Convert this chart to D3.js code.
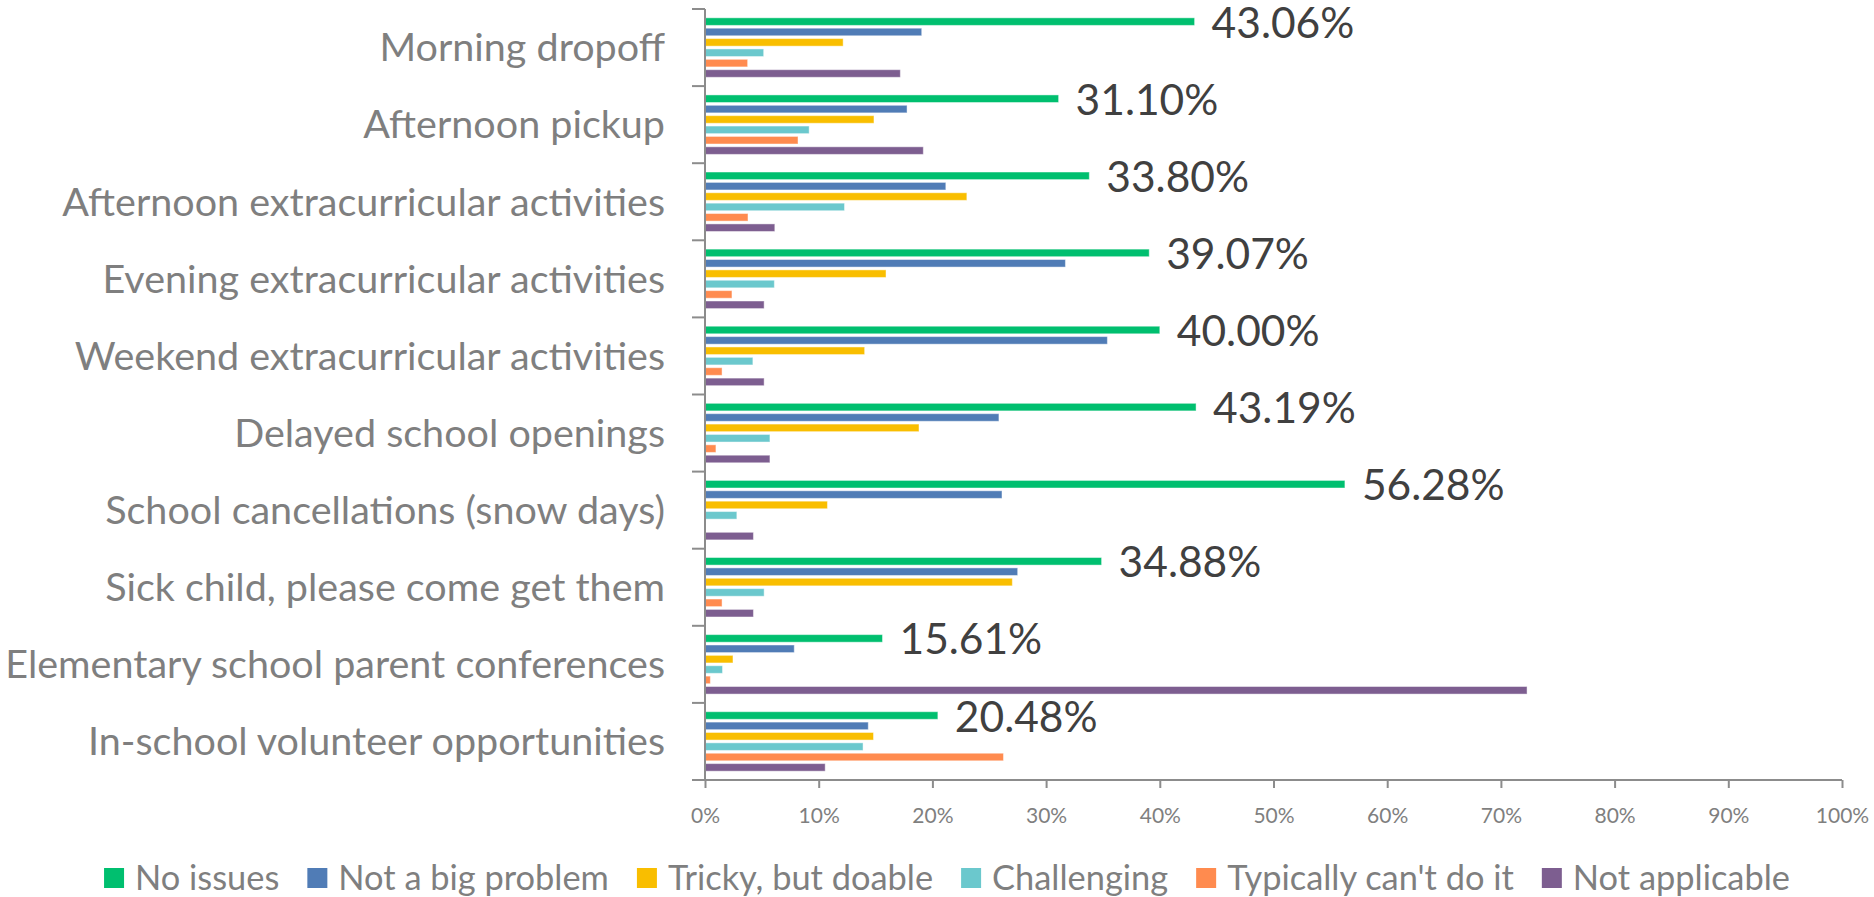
<!DOCTYPE html>
<html>
<head>
<meta charset="utf-8">
<script src="https://cdn.jsdelivr.net/npm/d3@7"></script>
<style>
  html, body { margin: 0; padding: 0; background: #fff; }
  svg { display: block; }
</style>
</head>
<body>
<svg id="chart" width="1874" height="897"></svg>
<script>
// ---- Data ----
const categories = [
  "Morning dropoff",
  "Afternoon pickup",
  "Afternoon extracurricular activities",
  "Evening extracurricular activities",
  "Weekend extracurricular activities",
  "Delayed school openings",
  "School cancellations (snow days)",
  "Sick child, please come get them",
  "Elementary school parent conferences",
  "In-school volunteer opportunities"
];
const seriesNames = ["No issues", "Not a big problem", "Tricky, but doable", "Challenging", "Typically can't do it", "Not applicable"];
const noIssues        = [43.06, 31.10, 33.80, 39.07, 40.00, 43.19, 56.28, 34.88, 15.61, 20.48];
const notBigProblem   = [19.06, 17.77, 21.18, 31.70, 35.39, 25.85, 26.12, 27.50, 7.85, 14.36];
const trickyDoable    = [12.15, 14.86, 23.03, 15.92, 14.04, 18.82, 10.77, 27.03, 2.46, 14.82];
const challenging     = [5.16, 9.16, 12.27, 6.10, 4.21, 5.71, 2.80, 5.20, 1.54, 13.90];
const typicallyCant   = [3.75, 8.18, 3.78, 2.37, 1.50, 0.96, 0.00, 1.50, 0.47, 26.25];
const notApplicable   = [17.18, 19.20, 6.14, 5.20, 5.20, 5.71, 4.26, 4.26, 72.30, 10.57];
const xTicks = [0, 10, 20, 30, 40, 50, 60, 70, 80, 90, 100];
const colors = ["#00BF6F", "#507CB6", "#F9BE00", "#6BC8CD", "#FF8B4F", "#7D5E90"];

const seriesValues = [noIssues, notBigProblem, trickyDoable, challenging, typicallyCant, notApplicable];

// ---- Layout ----
const svg = d3.select("#chart");
const plotLeft = 705, plotRight = 1842, plotTop = 9, plotBottom = 780;
const FONT = "Lato, 'Open Sans', sans-serif";
const gray = "#7f7f7f";
const axisColor = "#8c8c8c";

const x = d3.scaleLinear().domain([0, 100]).range([plotLeft, plotRight]);
const y0 = d3.scaleBand().domain(categories).range([plotTop, plotBottom]).padding(0);
const y1 = d3.scaleBand().domain(seriesNames).range([0, y0.bandwidth()])
  .paddingInner(0.27).paddingOuter(0.85);

// ---- Bars ----
const groups = svg.append("g").selectAll("g")
  .data(categories)
  .join("g")
  .attr("transform", d => `translate(0,${y0(d)})`);

groups.selectAll("rect")
  .data((c, i) => seriesNames.map((s, j) => ({ s, j, v: seriesValues[j][i] })))
  .join("rect")
  .attr("x", x(0))
  .attr("y", d => y1(d.s))
  .attr("width", d => x(d.v) - x(0))
  .attr("height", y1.bandwidth())
  .attr("fill", d => colors[d.j])
  .attr("stroke", "#ffffff")
  .attr("stroke-opacity", d => d.v > 0 ? 0.45 : 0)
  .attr("stroke-width", 1);

// ---- Data labels (No issues) ----
groups.append("text")
  .attr("x", (c, i) => x(noIssues[i]) + 17)
  .attr("y", () => y1(seriesNames[0]) + y1.bandwidth() / 2 + 16)
  .attr("font-family", FONT)
  .attr("font-size", 42.5)
  .attr("fill", "#404040")
  .text((c, i) => noIssues[i].toFixed(2) + "%");

// ---- X axis ----
const xAxis = d3.axisBottom(x)
  .tickValues(xTicks)
  .tickFormat(d => d + "%")
  .tickSizeInner(8)
  .tickSizeOuter(0)
  .tickPadding(20);

const gx = svg.append("g")
  .attr("transform", `translate(0,${plotBottom})`)
  .call(xAxis);
gx.select(".domain").remove();
gx.append("line")
  .attr("x1", plotLeft - 13).attr("x2", plotRight)
  .attr("y1", 0).attr("y2", 0)
  .attr("stroke", axisColor).attr("stroke-width", 2);
gx.selectAll(".tick line").attr("stroke", axisColor).attr("stroke-width", 2);
gx.selectAll(".tick text")
  .attr("font-family", FONT)
  .attr("font-size", 21)
  .attr("fill", gray);

// ---- Y axis ----
const yAxis = d3.axisLeft(y0).tickSize(0).tickPadding(40);
const gy = svg.append("g")
  .attr("transform", `translate(${plotLeft},0)`)
  .call(yAxis);
gy.select(".domain").remove();
gy.selectAll(".tick text")
  .attr("font-family", FONT)
  .attr("font-size", 39.5)
  .attr("fill", gray)
  .attr("dy", "0.35em");

gy.append("line")
  .attr("x1", 0).attr("x2", 0)
  .attr("y1", plotTop).attr("y2", plotBottom)
  .attr("stroke", axisColor).attr("stroke-width", 2);

const boundaries = categories.map(c => y0(c)).concat([plotBottom]);
gy.selectAll("line.bound")
  .data(boundaries)
  .join("line")
  .attr("class", "bound")
  .attr("x1", -13).attr("x2", 0)
  .attr("y1", d => d).attr("y2", d => d)
  .attr("stroke", axisColor).attr("stroke-width", 2);

// ---- Legend ----
const legend = svg.append("g");
const legendY = 878;
const sq = 20, sqGap = 11, itemGap = 28;
const items = legend.selectAll("g")
  .data(seriesNames)
  .join("g");
items.append("rect")
  .attr("width", sq).attr("height", sq)
  .attr("y", legendY - sq / 2)
  .attr("fill", (d, i) => colors[i]);
items.append("text")
  .attr("x", sq + sqGap)
  .attr("y", legendY)
  .attr("dy", "0.35em")
  .attr("font-family", FONT)
  .attr("font-size", 34.4)
  .attr("fill", gray)
  .text(d => d);

const widths = [];
items.each(function () {
  const w = sq + sqGap + this.querySelector("text").getComputedTextLength();
  widths.push(w);
});
const total = d3.sum(widths) + itemGap * (widths.length - 1);
let cursor = 947 - total / 2;
items.each(function (d, i) {
  d3.select(this).attr("transform", `translate(${cursor},0)`);
  cursor += widths[i] + itemGap;
});
</script>
</body>
</html>
